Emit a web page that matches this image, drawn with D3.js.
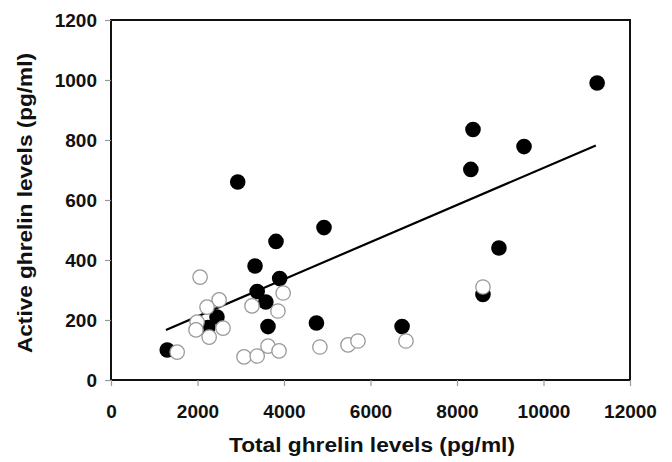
<!DOCTYPE html>
<meta charset="utf-8">
<style>
body { margin: 0; background: #fff; }
text { font-family: "Liberation Sans", Arial, sans-serif; font-weight: bold; }
</style>
<svg></svg>
<script src="https://d3js.org/d3.v7.min.js"></script>
<script>
var width = 672,
    height = 462;

// filled (black) points: total ghrelin, active ghrelin
var filledX = [1300, 2240, 2450, 2930, 3330, 3380, 3580, 3630, 3815, 3900, 4750, 4925, 6730, 8320, 8370, 8600, 8970, 9550, 11240];
var filledY = [100, 175, 210, 660, 380, 295, 260, 178, 462, 338, 190, 508, 178, 702, 835, 285, 440, 778, 990];

// open (white) points
var openX = [1530, 2060, 2500, 2220, 1990, 1965, 2270, 2590, 3260, 3980, 3860, 3075, 3380, 3630, 3885, 4830, 5480, 5710, 6820, 8600];
var openY = [93, 343, 267, 243, 193, 167, 143, 173, 247, 290, 230, 77, 80, 113, 97, 110, 117, 130, 130, 310];

// regression line end points
var lineX = [1270, 11210];
var lineY = [167, 782];

var xTicks = [0, 2000, 4000, 6000, 8000, 10000, 12000];
var yTicks = [0, 200, 400, 600, 800, 1000, 1200];

var margin = {left: 111, right: 42, top: 20, bottom: 82};

var x = d3.scaleLinear().domain([0, 12000]).range([margin.left, width - margin.right]);
var y = d3.scaleLinear().domain([0, 1200]).range([height - margin.bottom, margin.top]);

var svg = d3.select("svg")
    .attr("width", width)
    .attr("height", height);

// frame
svg.append("rect")
    .attr("x", x(0))
    .attr("y", y(1200))
    .attr("width", x(12000) - x(0))
    .attr("height", y(0) - y(1200))
    .attr("fill", "none")
    .attr("stroke", "#111")
    .attr("stroke-width", 2);

var xAxis = svg.append("g")
    .attr("transform", "translate(0," + y(0) + ")")
    .call(d3.axisBottom(x).tickValues(xTicks).tickSize(6).tickPadding(19).tickFormat(d3.format("d")));

var yAxis = svg.append("g")
    .attr("transform", "translate(" + x(0) + ",0)")
    .call(d3.axisLeft(y).tickValues(yTicks).tickSize(6).tickPadding(8).tickFormat(d3.format("d")));

[xAxis, yAxis].forEach(function(g) {
  g.select(".domain").remove();
  g.selectAll(".tick line").attr("stroke", "#999").attr("stroke-width", 1.2);
  g.selectAll(".tick text")
      .attr("fill", "#111")
      .style("font-size", "19px");
});

// regression line
svg.append("line")
    .attr("x1", x(lineX[0]))
    .attr("y1", y(lineY[0]))
    .attr("x2", x(lineX[1]))
    .attr("y2", y(lineY[1]))
    .attr("stroke", "#000")
    .attr("stroke-width", 2.2);

svg.append("g").selectAll("circle")
    .data(d3.range(filledX.length))
  .enter().append("circle")
    .attr("cx", function(i) { return x(filledX[i]); })
    .attr("cy", function(i) { return y(filledY[i]); })
    .attr("r", 7.8)
    .attr("fill", "#000");

svg.append("g").selectAll("circle")
    .data(d3.range(openX.length))
  .enter().append("circle")
    .attr("cx", function(i) { return x(openX[i]); })
    .attr("cy", function(i) { return y(openY[i]); })
    .attr("r", 7.2)
    .attr("fill", "#fff")
    .attr("stroke", "#999")
    .attr("stroke-width", 1.3);

svg.append("text")
    .attr("x", 372)
    .attr("y", 452)
    .attr("text-anchor", "middle")
    .attr("fill", "#111")
    .attr("textLength", 286)
    .attr("lengthAdjust", "spacingAndGlyphs")
    .style("font-size", "20px")
    .text("Total ghrelin levels (pg/ml)");

svg.append("text")
    .attr("transform", "translate(32,203) rotate(-90)")
    .attr("text-anchor", "middle")
    .attr("fill", "#111")
    .attr("textLength", 300)
    .attr("lengthAdjust", "spacingAndGlyphs")
    .style("font-size", "20px")
    .text("Active ghrelin levels (pg/ml)");
</script>
